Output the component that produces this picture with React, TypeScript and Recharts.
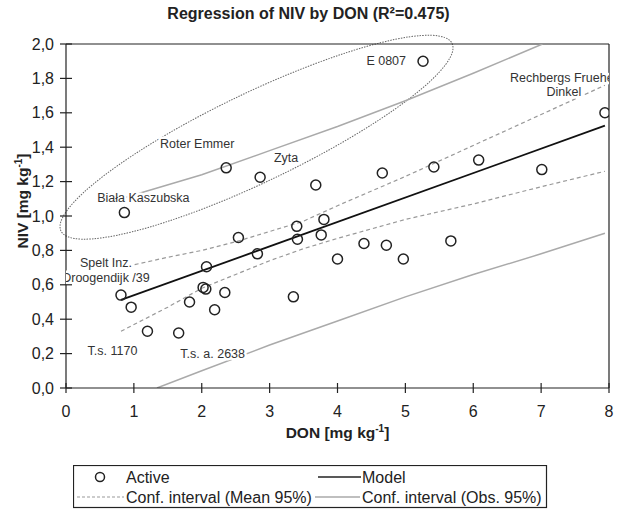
import React from 'react';
import { ComposedChart, XAxis, YAxis, Line, Scatter, ReferenceLine, ReferenceArea } from 'recharts';

// observed varieties: DON (x) and NIV (y), mg/kg
const donValues = [0.81, 0.86, 0.96, 1.2, 1.66, 1.82, 2.02, 2.06, 2.07, 2.19, 2.34, 2.36, 2.54, 2.82, 2.86, 3.35, 3.4, 3.41, 3.68, 3.76, 3.8, 4.0, 4.39, 4.66, 4.72, 4.97, 5.26, 5.42, 5.67, 6.08, 7.01, 7.94];
const nivValues = [0.54, 1.02, 0.47, 0.33, 0.32, 0.5, 0.585, 0.575, 0.705, 0.455, 0.555, 1.28, 0.875, 0.78, 1.225, 0.53, 0.94, 0.865, 1.18, 0.89, 0.98, 0.75, 0.84, 1.25, 0.83, 0.75, 1.9, 1.285, 0.855, 1.325, 1.27, 1.6];

// named varieties
const labelNames = ['Biała Kaszubska', 'Roter Emmer', 'Zyta', 'E 0807', 'Rechbergs Frueher|Dinkel', 'Spelt Inz.|Droogendijk /39', 'T.s. 1170', 'T.s. a. 2638'];
const labelDon = [0.86, 2.36, 2.86, 5.26, 7.94, 0.81, 1.2, 1.66];
const labelNiv = [1.02, 1.28, 1.225, 1.9, 1.6, 0.54, 0.33, 0.32];

// regression model
const modelDon = [0.81, 7.94];
const modelNiv = [0.512, 1.525];

// confidence interval of the mean (95%)
const meanDon = [0.81, 1.5, 2.0, 2.5, 3.0, 3.5, 4.0, 5.0, 6.0, 7.0, 7.94];
const meanUpper = [0.7, 0.76, 0.8, 0.85, 0.91, 0.97, 1.06, 1.23, 1.41, 1.59, 1.76];
const meanLower = [0.33, 0.47, 0.58, 0.66, 0.74, 0.81, 0.87, 0.98, 1.07, 1.17, 1.26];

// confidence interval of observations (95%)
const obsUpperDon = [0.81, 2.0, 3.0, 4.0, 5.0, 6.0, 7.02];
const obsUpperNiv = [1.1, 1.24, 1.38, 1.52, 1.67, 1.83, 2.0];
const obsLowerDon = [1.34, 2.0, 3.0, 4.0, 5.0, 6.0, 7.0, 7.94];
const obsLowerNiv = [0.0, 0.1, 0.25, 0.39, 0.53, 0.66, 0.78, 0.9];

// highlighted group: ends of the ellipse's long axis
const ellipseDon = [-0.074, 5.688];
const ellipseNiv = [0.913, 2.003];

const xTicks = [0, 1, 2, 3, 4, 5, 6, 7, 8];
const yTicks = [0, 0.2, 0.4, 0.6, 0.8, 1.0, 1.2, 1.4, 1.6, 1.8, 2.0];

const zip = (xs: number[], ys: number[]) => xs.map((x, i) => ({ x, y: ys[i] }));

const points = zip(donValues, nivValues);
const labelData = labelNames.map((name, i) => ({ x: labelDon[i], y: labelNiv[i], name }));
const modelData = zip(modelDon, modelNiv);
const meanUpperData = zip(meanDon, meanUpper);
const meanLowerData = zip(meanDon, meanLower);
const obsUpperData = zip(obsUpperDon, obsUpperNiv);
const obsLowerData = zip(obsLowerDon, obsLowerNiv);

const FONT = '"Liberation Sans", Arial, sans-serif';
const INK = '#222';

// label placement relative to the point (pixels)
const labelStyle: Record<string, { dx: number; dy: number; anchor: 'start' | 'middle' | 'end' }> = {
    'Biała Kaszubska': { dx: 19, dy: -11, anchor: 'middle' },
    'Roter Emmer': { dx: -29, dy: -20, anchor: 'middle' },
    'Zyta': { dx: 26, dy: -15, anchor: 'middle' },
    'E 0807': { dx: -17, dy: 4, anchor: 'end' },
    'Rechbergs Frueher|Dinkel': { dx: -41, dy: -31, anchor: 'middle' },
    'Spelt Inz.|Droogendijk /39': { dx: -15, dy: -28, anchor: 'middle' },
    'T.s. 1170': { dx: -35, dy: 24, anchor: 'middle' },
    'T.s. a. 2638': { dx: 34, dy: 25, anchor: 'middle' },
};

const XTick = (props: any) => {
    const { x, y, payload } = props;
    return (
        <g>
            <line x1={x} x2={x} y1={y - 5} y2={y + 5} stroke={INK} strokeWidth={1.2} />
            <text x={x} y={y + 29} textAnchor="middle" fontSize={16} fill={INK} fontFamily={FONT}>
                {payload.value}
            </text>
        </g>
    );
};

const YTick = (props: any) => {
    const { x, y, payload } = props;
    return (
        <g>
            <line x1={x - 6} x2={x + 6} y1={y} y2={y} stroke={INK} strokeWidth={1.2} />
            <text x={x - 12} y={y + 5.5} textAnchor="end" fontSize={16} fill={INK} fontFamily={FONT}>
                {Number(payload.value).toFixed(1).replace('.', ',')}
            </text>
        </g>
    );
};

const Circle = (props: any) => {
    const { cx, cy } = props;
    if (cx == null || cy == null) return <g />;
    return <circle cx={cx} cy={cy} r={5} fill="none" stroke={INK} strokeWidth={1.5} />;
};

const PointLabel = (props: any) => {
    const { cx, cy, payload } = props;
    if (cx == null || cy == null) return <g />;
    const s = labelStyle[payload.name];
    const lines = String(payload.name).split('|');
    return (
        <text
            x={cx + s.dx}
            y={cy + s.dy}
            textAnchor={s.anchor}
            fontSize={12.5}
            fill="#333"
            fontFamily={FONT}
            stroke="#fff"
            strokeWidth={5}
            strokeLinejoin="round"
            paintOrder="stroke"
        >
            {lines.map((l, i) => (
                <tspan key={l} x={cx + s.dx} dy={i === 0 ? 0 : 14.5}>{l}</tspan>
            ))}
        </text>
    );
};

const EllipseShape = (props: any) => {
    const { x, y, width, height } = props;
    if (x == null || width == null) return <g />;
    const cx = x + width / 2;
    const cy = y + height / 2;
    const rx = Math.sqrt(width * width + height * height) / 2;
    const angle = (-Math.atan2(height, width) * 180) / Math.PI;
    return (
        <ellipse
            cx={cx}
            cy={cy}
            rx={rx}
            ry={44.5}
            transform={`rotate(${angle} ${cx} ${cy})`}
            fill="none"
            stroke="#666"
            strokeWidth={1}
            strokeDasharray="1.5 1.2"
        />
    );
};

const xAxisTitle = (p: any) => {
    const vb = p.viewBox || { x: 66, y: 388, width: 543 };
    return (
        <text x={vb.x + vb.width / 2} y={vb.y + 50} textAnchor="middle" fontSize={15.5} fontWeight="bold" fill={INK} fontFamily={FONT}>
            DON [mg kg<tspan dy={-6} fontSize={10}>-1</tspan><tspan dy={6}>]</tspan>
        </text>
    );
};

const yAxisTitle = (p: any) => {
    const vb = p.viewBox || { x: 10, y: 44, height: 344 };
    const tx = vb.x + 18;
    const ty = vb.y + vb.height / 2 - 15;
    return (
        <text x={tx} y={ty} transform={`rotate(-90 ${tx} ${ty})`} textAnchor="middle" fontSize={15.5} fontWeight="bold" fill={INK} fontFamily={FONT}>
            NIV [mg kg<tspan dy={-6} fontSize={10}>-1</tspan><tspan dy={6}>]</tspan>
        </text>
    );
};

const LegendBox = () => (
    <svg width={475} height={44} style={{ position: 'absolute', left: 73, top: 465 }}>
        <rect x={0.5} y={0.5} width={473} height={42} fill="#fff" stroke={INK} strokeWidth={1.2} />
        <g fontFamily={FONT} fontSize={16} fill={INK}>
            <circle cx={27} cy={12} r={4.5} fill="none" stroke={INK} strokeWidth={1.5} />
            <text x={53} y={18}>Active</text>
            <line x1={245} x2={288} y1={12} y2={12} stroke={INK} strokeWidth={1.5} />
            <text x={289} y={18}>Model</text>
            <line x1={4} x2={51} y1={32} y2={32} stroke="#999" strokeWidth={1.2} strokeDasharray="3 2" />
            <text x={53} y={38}>Conf. interval (Mean 95%)</text>
            <line x1={242} x2={287} y1={32} y2={32} stroke="#aaa" strokeWidth={1.5} />
            <text x={289} y={38}>Conf. interval (Obs. 95%)</text>
        </g>
    </svg>
);

export default function App() {
    return (
        <div style={{ position: 'absolute', left: 0, top: 0, width: 617, height: 511, background: '#fff', fontFamily: FONT }}>
            <div style={{ position: 'absolute', left: 0, top: 5, width: 617, textAlign: 'center', fontSize: 16, fontWeight: 'bold', color: INK }}>
                Regression of NIV by DON (R²=0.475)
            </div>
            <div style={{ position: 'absolute', left: 0, top: 0 }}>
                <ComposedChart width={617} height={511} margin={{ top: 44, right: 8, bottom: 73, left: 10 }}>
                    <XAxis
                        type="number"
                        dataKey="x"
                        domain={[0, 8]}
                        ticks={xTicks}
                        interval={0}
                        height={50}
                        tickSize={0}
                        tickMargin={0}
                        tickLine={false}
                        axisLine={{ stroke: INK, strokeWidth: 1.2 }}
                        tick={<XTick />}
                        label={xAxisTitle}
                        allowDataOverflow
                    />
                    <YAxis
                        type="number"
                        dataKey="y"
                        domain={[0, 2]}
                        ticks={yTicks}
                        interval={0}
                        width={56}
                        tickSize={0}
                        tickMargin={0}
                        tickLine={false}
                        axisLine={{ stroke: INK, strokeWidth: 1.2 }}
                        tick={<YTick />}
                        label={yAxisTitle}
                        allowDataOverflow
                    />
                    <ReferenceLine y={2} stroke={INK} strokeWidth={1.2} />
                    <ReferenceLine x={8} stroke={INK} strokeWidth={1.2} />
                    <ReferenceArea
                        x1={ellipseDon[0]}
                        x2={ellipseDon[1]}
                        y1={ellipseNiv[0]}
                        y2={ellipseNiv[1]}
                        ifOverflow="visible"
                        shape={<EllipseShape />}
                    />
                    <Line data={obsUpperData} dataKey="y" stroke="#aaa" strokeWidth={1.5} dot={false} activeDot={false} isAnimationActive={false} />
                    <Line data={obsLowerData} dataKey="y" stroke="#aaa" strokeWidth={1.5} dot={false} activeDot={false} isAnimationActive={false} />
                    <Line data={meanUpperData} dataKey="y" stroke="#999" strokeWidth={1.2} strokeDasharray="4 3" dot={false} activeDot={false} isAnimationActive={false} />
                    <Line data={meanLowerData} dataKey="y" stroke="#999" strokeWidth={1.2} strokeDasharray="4 3" dot={false} activeDot={false} isAnimationActive={false} />
                    <Line data={modelData} dataKey="y" stroke="#111" strokeWidth={1.8} dot={false} activeDot={false} isAnimationActive={false} />
                    <Scatter data={points} dataKey="y" shape={<Circle />} isAnimationActive={false} />
                    <Scatter data={labelData} dataKey="y" shape={<PointLabel />} isAnimationActive={false} />
                </ComposedChart>
            </div>
            <LegendBox />
        </div>
    );
}
